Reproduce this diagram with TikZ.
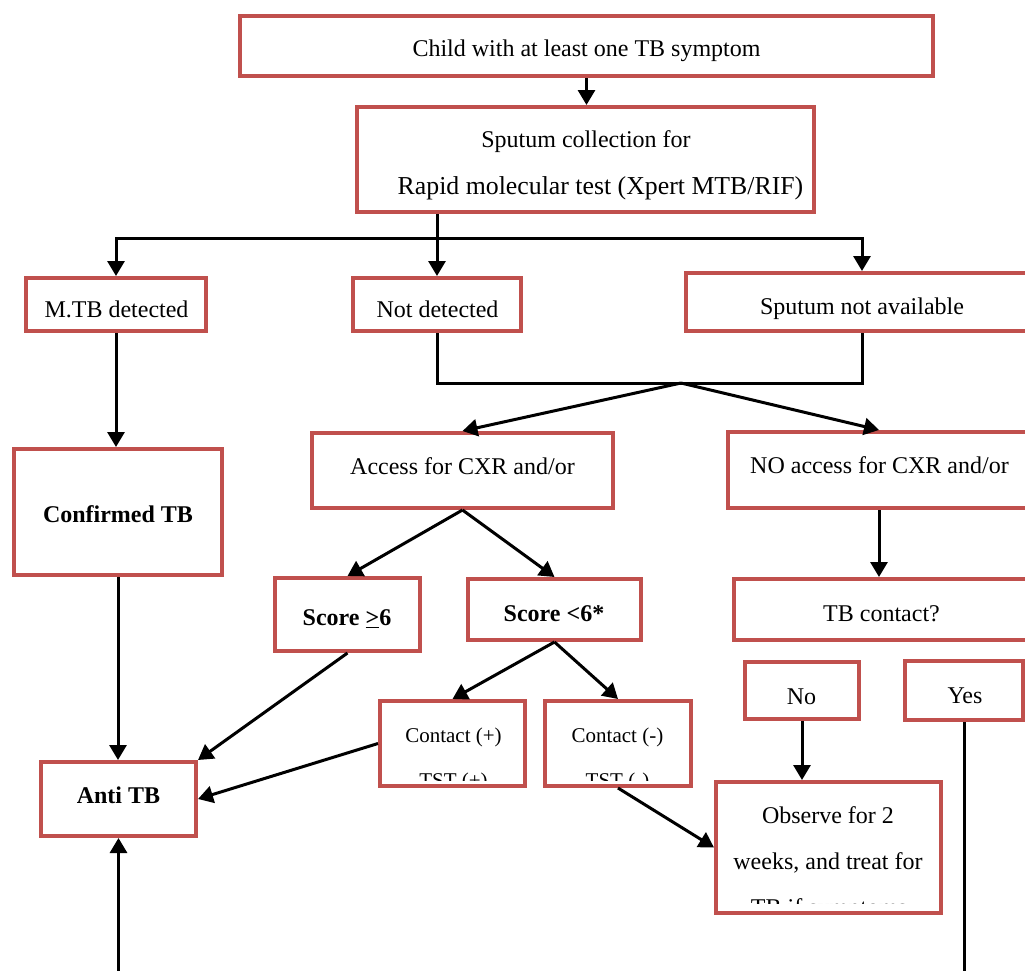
\documentclass[tikz,border=0pt]{standalone}
\usepackage{fontspec}
\setmainfont{Liberation Serif}
\usetikzlibrary{arrows.meta,calc}
\definecolor{boxred}{RGB}{192,80,77}
\tikzset{
  x=0.5pt, y=-0.5pt,
  box/.style={draw=boxred, line width=2pt, fill=white, inner sep=0pt},
  txt/.style={anchor=base, inner sep=0pt, font=\fontsize{12}{14}\selectfont},
  btxt/.style={txt, font=\fontsize{12}{14}\selectfont\bfseries},
  stxt/.style={anchor=base, inner sep=0pt, font=\fontsize{10.5}{12}\selectfont},
  conn/.style={line width=1.5pt, black, line join=miter},
  tip/.style={},
  arr/.style={conn, -{Triangle[width=8.5pt,length=7.5pt]}},
  arrboth/.style={conn, {Triangle[width=8.5pt,length=7.5pt]}-{Triangle[width=8.5pt,length=7.5pt]}},
}
% name, x1, y1, x2, y2 (outer edges, in px)
\newcommand\mkbox[5]{\node[box, minimum width={(#4-#2-4)*0.5pt}, minimum height={(#5-#3-4)*0.5pt}] (#1) at ({(#2+#4)/2},{(#3+#5)/2}) {};}
\begin{document}
\begin{tikzpicture}
\useasboundingbox (0,0) rectangle (1025,971);
\clip (0,0) rectangle (1025,971);

% boxes
\mkbox{child}{238}{14}{935}{78}
\mkbox{sputcoll}{355}{105}{816}{214}
\mkbox{mtb}{24}{276}{208}{333}
\mkbox{notdet}{351}{276}{523}{333}
\mkbox{sputna}{684}{271}{1100}{333}
\mkbox{conf}{12}{447}{224}{577}
\mkbox{anti}{39}{760}{198}{838}
\mkbox{access}{310}{431}{615}{510}
\mkbox{noacc}{726}{430}{1100}{510}
\mkbox{tbc}{732}{577}{1100}{642}
\mkbox{sge}{273}{576}{422}{653}
\mkbox{slt}{466}{577}{643}{642}
\mkbox{no}{743}{660}{861}{721}
\mkbox{yes}{903}{659}{1025}{722}
\mkbox{cplus}{378}{699}{527}{788}
\mkbox{cminus}{543}{699}{693}{788}
\mkbox{obs}{714}{780}{943}{915}

% texts
\node[txt] (t-child) at (586.5,56) {Child with at least one TB symptom};
\node[txt] (t-coll1) at (586,147) {Sputum collection for};
\node[txt, font=\fontsize{12.9}{15}\selectfont] (t-coll2) at (600.5,194) {Rapid molecular test (Xpert MTB/RIF)};
\node[txt] (t-mtb) at (116.5,317) {M.TB detected};
\node[txt] (t-notdet) at (437.5,317) {Not detected};
\node[txt] (t-sputna) at (862,314) {Sputum not available};
\node[btxt] (t-conf) at (118,522) {Confirmed TB};
\node[btxt] (t-anti) at (118.5,803) {Anti TB};
\node[txt] (t-access) at (462.5,474) {Access for CXR and/or};
\node[txt] (t-noacc) at (879.5,473) {NO access for CXR and/or};
\node[txt] (t-tbc) at (881.5,621) {TB contact?};
\node[btxt] (t-sge) at (347,625) {Score \underline{>}6};
\node[btxt] (t-slt) at (554,621) {Score <6*};
\node[txt] (t-no) at (801.5,704) {No};
\node[txt] (t-yes) at (965,703) {Yes};
\node[stxt] (t-cplus) at (453.5,742) {Contact (+)};
\node[stxt] (t-cminus) at (617.5,742) {Contact (-)};
\begin{scope}
  \clip (382,700) rectangle (523,780);
  \node[stxt] (t-tstp) at (453.5,787) {TST (+)};
\end{scope}
\begin{scope}
  \clip (547,700) rectangle (689,780);
  \node[stxt] (t-tstm) at (617.5,787) {TST (-)};
\end{scope}
\node[txt] (t-obs1) at (828,823) {Observe for 2};
\node[txt] (t-obs2) at (828,869) {weeks, and treat for};
\begin{scope}
  \clip (718,784) rectangle (939,903);
  \node[txt] (t-obs3) at (829,915) {TB if symptoms};
\end{scope}

% helper coordinates
\coordinate (busL) at (116,238);
\coordinate (busR) at (862,238);
\coordinate (jn) at (681,383);
\coordinate (rc) at (879,0);
\coordinate (bot) at (0,980);

% connectors
\draw[arr] (child.south) -- (child.south |- sputcoll.north);
\draw[arr] (sputcoll.south -| notdet.north) -- (notdet.north);
\draw[arrboth] (busL |- mtb.north) -- (busL) -- (busR) -- (busR |- sputna.north);
\draw[conn] (notdet.south) -- (notdet.south |- jn) -- (busR |- jn) -- (busR |- sputna.south);
\draw[arr] (jn) -- (access.north);
\draw[arr] (jn) -- (noacc.north -| rc);
\draw[arr] (mtb.south) -- (mtb.south |- conf.north);
\draw[arr] (conf.south) -- (conf.south |- anti.north);
\draw[arr] (access.south) -- (sge.north);
\draw[arr] (access.south) -- (slt.north);
\draw[arr] (noacc.south -| rc) -- (tbc.north -| rc);
\draw[arr] (sge.south) -- (anti.north east);
\draw[arr] (slt.south) -- (cplus.north);
\draw[arr] (slt.south) -- (cminus.north);
\draw[arr] (cplus.west) -- (anti.east);
\draw[arr] (cminus.south) -- (obs.west);
\draw[arr] (no.south) -- (no.south |- obs.north);
\draw[conn] (yes.south) -- (yes.south |- bot);
\draw[arr] (anti.south |- bot) -- (anti.south);
\end{tikzpicture}
\end{document}
